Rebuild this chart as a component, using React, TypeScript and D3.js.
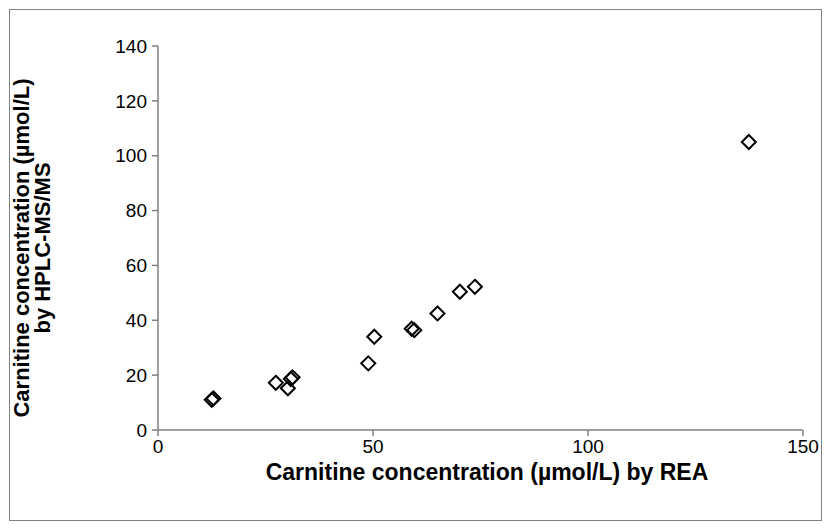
import React from "react";
import * as d3 from "d3";

const xValues = [12.5, 12.9, 27.4, 30.2, 30.9, 31.3, 48.9, 50.3, 59.0, 59.6, 65.0, 70.2, 73.7, 137.4];
const yValues = [11.0, 11.5, 17.2, 15.2, 18.6, 19.2, 24.3, 34.0, 36.9, 36.4, 42.5, 50.4, 52.2, 105.0];
const xTicks = [0, 50, 100, 150];
const yTicks = [0, 20, 40, 60, 80, 100, 120, 140];

const W = 831;
const H = 530;
const M = { left: 158, right: 803, top: 46, bottom: 430 };

export default function App() {
  const x = d3.scaleLinear().domain([0, 150]).range([M.left, M.right]);
  const y = d3.scaleLinear().domain([0, 140]).range([M.bottom, M.top]);
  const font = "'Liberation Sans', Arial, sans-serif";
  const axisColor = "#808080";
  const r = 7;
  const diamond = (cx: number, cy: number) =>
    `M${cx},${cy - r}L${cx + r},${cy}L${cx},${cy + r}L${cx - r},${cy}Z`;
  return (
    <svg
      width={W}
      height={H}
      style={{ position: "absolute", left: 0, top: 0 }}
      fontFamily={font}
    >
      <rect x={0} y={0} width={W} height={H} fill="#fff" />
      <rect x={9.5} y={9.5} width={812} height={511} fill="none" stroke="#808080" strokeWidth={1} />
      {/* y axis */}
      <line x1={M.left} x2={M.left} y1={y(0)} y2={y(140)} stroke={axisColor} strokeWidth={1.5} />
      {yTicks.map((t) => (
        <g key={"y" + t}>
          <line x1={M.left - 6} x2={M.left} y1={y(t)} y2={y(t)} stroke={axisColor} strokeWidth={1.5} />
          <text x={M.left - 11} y={y(t)} dy="0.35em" textAnchor="end" fontSize={19} fill="#000">
            {t}
          </text>
        </g>
      ))}
      {/* x axis */}
      <line x1={x(0)} x2={x(150)} y1={M.bottom} y2={M.bottom} stroke={axisColor} strokeWidth={1.5} />
      {xTicks.map((t) => (
        <g key={"x" + t}>
          <line x1={x(t)} x2={x(t)} y1={M.bottom} y2={M.bottom + 6} stroke={axisColor} strokeWidth={1.5} />
          <text x={x(t)} y={M.bottom + 23} textAnchor="middle" fontSize={19} fill="#000">
            {t}
          </text>
        </g>
      ))}
      {xValues.map((xv, i) => (
        <path
          key={"p" + i}
          d={diamond(x(xv), y(yValues[i]))}
          fill="none"
          stroke="#000"
          strokeWidth={2}
        />
      ))}
      <text x={487} y={480} textAnchor="middle" fontSize={23} fontWeight="bold">
        Carnitine concentration (µmol/L) by REA
      </text>
      <g transform={`translate(29, 248) rotate(-90)`}>
        <text x={0} y={0} textAnchor="middle" fontSize={22} fontWeight="bold">
          Carnitine concentration (µmol/L)
        </text>
        <text x={0} y={21} textAnchor="middle" fontSize={22} fontWeight="bold">
          by HPLC-MS/MS
        </text>
      </g>
    </svg>
  );
}
